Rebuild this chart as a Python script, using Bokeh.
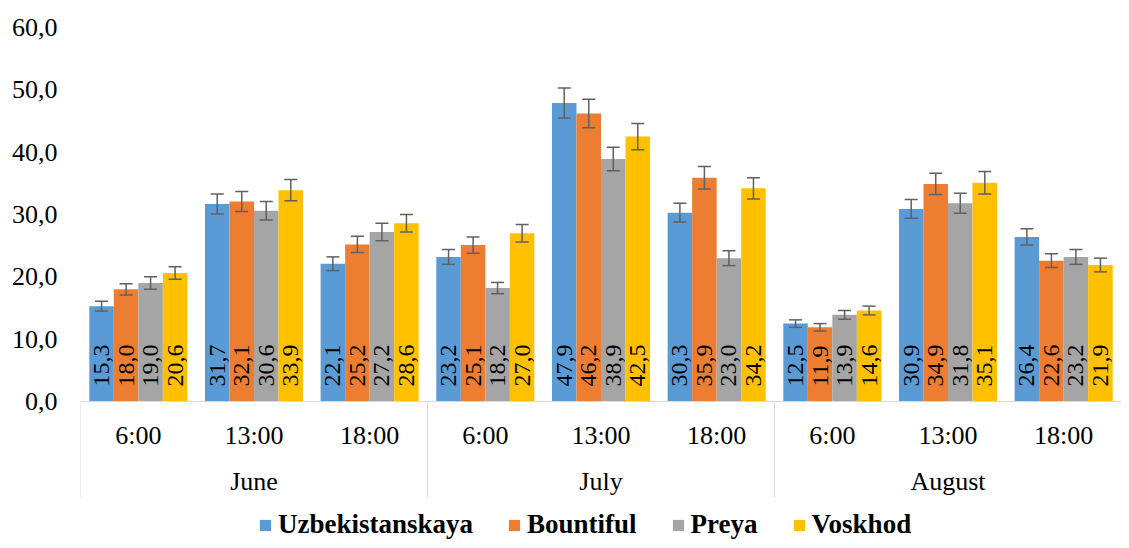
import numpy as np
from bokeh.plotting import figure
from bokeh.models import (ColumnDataSource, FactorRange, Range1d, Whisker, Legend,
                          LegendItem, FixedTicker, TeeHead, CategoricalAxis)
from bokeh.transform import dodge
from bokeh.core.properties import value
from bokeh.embed import file_html
from bokeh.resources import INLINE

# ---------------- data ----------------
months = ["June", "July", "August"]
times = ["6:00", "13:00", "18:00"]
series = ["Uzbekistanskaya", "Bountiful", "Preya", "Voskhod"]
colors = ["#5B9BD5", "#ED7D31", "#A5A5A5", "#FFC000"]

# values per (month, time): Jun 6,13,18 | Jul 6,13,18 | Aug 6,13,18
uzbekistanskaya = [15.3, 31.7, 22.1, 23.2, 47.9, 30.3, 12.5, 30.9, 26.4]
bountiful = [18.0, 32.1, 25.2, 25.1, 46.2, 35.9, 11.9, 34.9, 22.6]
preya = [19.0, 30.6, 27.2, 18.2, 38.9, 23.0, 13.9, 31.8, 23.2]
voskhod = [20.6, 33.9, 28.6, 27.0, 42.5, 34.2, 14.6, 35.1, 21.9]

err_uzbekistanskaya = [0.8, 1.6, 1.1, 1.2, 2.4, 1.5, 0.6, 1.5, 1.3]
err_bountiful = [0.9, 1.6, 1.3, 1.3, 2.3, 1.8, 0.6, 1.7, 1.1]
err_preya = [1.0, 1.5, 1.4, 0.9, 1.9, 1.2, 0.7, 1.6, 1.2]
err_voskhod = [1.0, 1.7, 1.4, 1.4, 2.1, 1.7, 0.7, 1.8, 1.1]

y_ticks = [0, 10, 20, 30, 40, 50, 60]
y_tick_labels = ["0,0", "10,0", "20,0", "30,0", "40,0", "50,0", "60,0"]

values = [uzbekistanskaya, bountiful, preya, voskhod]
errors = [err_uzbekistanskaya, err_bountiful, err_preya, err_voskhod]

# ---------------- figure ----------------
factors = [(m, t) for m in months for t in times]
FONT = "Liberation Serif, Times New Roman, serif"
GRID = "#D9D9D9"

p = figure(
    x_range=FactorRange(*factors, factor_padding=0, group_padding=0, range_padding=0),
    y_range=Range1d(-22.3, 60),
    width=1121, height=540,
    output_backend="svg", toolbar_location=None,
    x_axis_location=None,
    min_border_left=80, min_border_right=0, min_border_top=27, min_border_bottom=0,
)
p.outline_line_color = None
p.xgrid.visible = False
p.ygrid.visible = False

bar_w = 0.212
offsets = [-1.5 * bar_w, -0.5 * bar_w, 0.5 * bar_w, 1.5 * bar_w]

items = []
for name, vals, errs, col, off in zip(series, values, errors, colors, offsets):
    src = ColumnDataSource(dict(
        x=factors,
        top=vals,
        up=[v + e for v, e in zip(vals, errs)],
        lo=[v - e for v, e in zip(vals, errs)],
        lab=[f"{v:.1f}".replace(".", ",") for v in vals],
        zero=[0] * len(vals),
    ))
    xs = dodge("x", off, range=p.x_range)
    r = p.vbar(x=xs, top="top", width=bar_w, source=src,
               fill_color=col, line_color=None)
    items.append(LegendItem(label=name, renderers=[r]))

    wh = Whisker(base=xs, upper="up", lower="lo", source=src, level="overlay",
                 line_color="#606060", line_width=1.5,
                 upper_head=TeeHead(size=13, line_color="#606060", line_width=1.5),
                 lower_head=TeeHead(size=13, line_color="#606060", line_width=1.5))
    p.add_layout(wh)

    p.text(x=xs, y="zero", text="lab", source=src, angle=np.pi / 2,
           text_align="left", text_baseline="middle", y_offset=-15,
           text_font=value(FONT), text_font_size="24px", text_color="black")

# category-axis box edges (left edge of each month block)
sep_src = ColumnDataSource(dict(
    x=[(m, times[0]) for m in months],
    y0=[0] * len(months),
    y1=[-15.4] * len(months),
))
sx = dodge("x", -0.5, range=p.x_range)
p.segment(x0=sx, y0="y0", x1=sx, y1="y1", source=sep_src,
          line_color=GRID, line_width=1)

# y axis
p.yaxis.ticker = FixedTicker(ticks=y_ticks)
p.yaxis.major_label_overrides = {t: l for t, l in zip(y_ticks, y_tick_labels)}
p.yaxis.axis_line_color = None
p.yaxis.major_tick_line_color = None
p.yaxis.major_tick_out = 0
p.yaxis.major_tick_in = 0
p.yaxis.minor_tick_line_color = None
p.yaxis.major_label_standoff = 23
p.yaxis.major_label_text_font = FONT
p.yaxis.major_label_text_font_size = "26px"
p.yaxis.major_label_text_color = "black"

# x axis drawn at y = 0
xa = CategoricalAxis(fixed_location=0)
xa.axis_line_color = GRID
xa.axis_line_width = 1
xa.major_tick_line_color = None
xa.minor_tick_line_color = None
xa.major_label_standoff = 14
xa.major_label_text_font = FONT
xa.major_label_text_font_size = "26px"
xa.major_label_text_color = "black"
xa.group_text_font = FONT
xa.group_text_font_size = "26px"
xa.group_text_font_style = "normal"
xa.group_text_color = "black"
xa.separator_line_color = None
p.add_layout(xa, "below")

legend = Legend(items=items, orientation="horizontal", location=(178, 0),
                label_text_font=FONT, label_text_font_style="bold",
                label_text_font_size="27px", label_text_color="black",
                glyph_width=14, glyph_height=14, label_standoff=6, spacing=34,
                border_line_color=None, background_fill_alpha=0,
                padding=0, margin=0)
p.add_layout(legend, "center")

open("out.html", "w").write(file_html(p, INLINE))
